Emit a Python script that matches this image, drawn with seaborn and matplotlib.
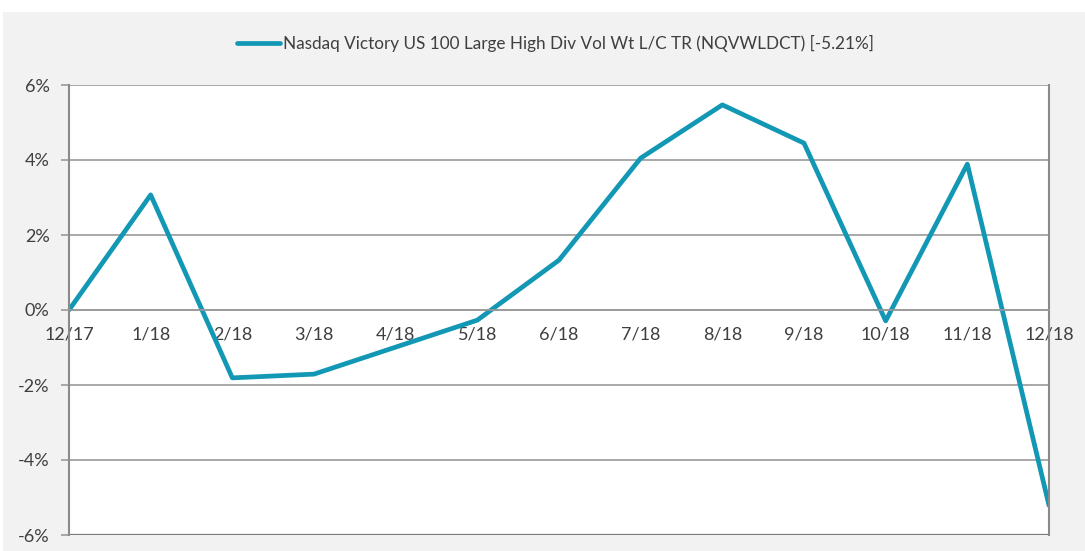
import matplotlib
matplotlib.use("Agg")
import matplotlib.pyplot as plt
import matplotlib.patches as mpatches
import seaborn as sns
import pandas as pd
from matplotlib.ticker import FuncFormatter

# monthly cumulative return, %
months = ["12/17", "1/18", "2/18", "3/18", "4/18", "5/18", "6/18",
          "7/18", "8/18", "9/18", "10/18", "11/18", "12/18"]
returns = [0.0, 3.07, -1.81, -1.71, -0.99, -0.27, 1.33,
           4.05, 5.47, 4.45, -0.29, 3.89, -5.21]
series_name = "Nasdaq Victory US 100 Large High Div Vol Wt L/C TR (NQVWLDCT) [-5.21%]"
y_ticks = [-6, -4, -2, 0, 2, 4, 6]

df = pd.DataFrame({"idx": range(len(months)), "ret": returns, "series": series_name})

sns.set_style("white")
plt.rcParams["font.family"] = ["Lato", "DejaVu Sans"]

line_color = "#1298b4"
text_color = "#3f3f3f"
grid_color = "#9a9a9a"

fig = plt.figure(figsize=(10.85, 5.51), dpi=100, facecolor="white")
# light gray panel behind the chart
panel = mpatches.Rectangle((3 / 1085, 0), 1, 1 - 12 / 551,
                           transform=fig.transFigure,
                           facecolor="#f2f2f2", edgecolor="none", zorder=-10)
fig.add_artist(panel)

ax = fig.add_axes([69 / 1085, 16 / 551, 980 / 1085, 450 / 551])
ax.set_facecolor("white")

sns.lineplot(data=df, x="idx", y="ret", hue="series", palette=[line_color],
             linewidth=3.4, ax=ax, legend=True)

ax.set_xlim(0, len(months) - 1)
ax.set_ylim(-6, 6)
ax.set_yticks(y_ticks)
ax.yaxis.set_major_formatter(FuncFormatter(lambda v, p: f"{v:.0f}%"))
ax.set_xticks(range(len(months)))
ax.set_xticklabels(months)
ax.set_xlabel("")
ax.set_ylabel("")

ax.grid(axis="y", color=grid_color, linewidth=1.2)
ax.set_axisbelow(True)

ax.spines["top"].set_visible(False)
ax.spines["left"].set_color("#8a8a8a")
ax.spines["left"].set_linewidth(1.5)
ax.spines["right"].set_color("#8a8a8a")
ax.spines["right"].set_linewidth(1.5)
ax.spines["bottom"].set_position(("data", 0))
ax.spines["bottom"].set_color(grid_color)
ax.spines["bottom"].set_linewidth(1.2)
ax.axhline(-6, color="#7a7a7a", linewidth=1.6, zorder=1)

ax.tick_params(axis="x", direction="inout", length=10, width=1.2, color=grid_color,
               labelsize=13, labelcolor=text_color, pad=7)
ax.tick_params(axis="y", direction="out", length=6, width=1.2, color=grid_color,
               labelsize=13, labelcolor=text_color, pad=8, left=True)

handles, labels = ax.get_legend_handles_labels()
ax.legend(handles, labels, loc="center", bbox_to_anchor=(0.512, 1 - 43 / 551),
          bbox_transform=fig.transFigure, frameon=False, fontsize=12.3,
          handlelength=2.5, handletextpad=0.2, labelcolor=text_color)

fig.savefig("out.png", dpi=100, facecolor=fig.get_facecolor())
